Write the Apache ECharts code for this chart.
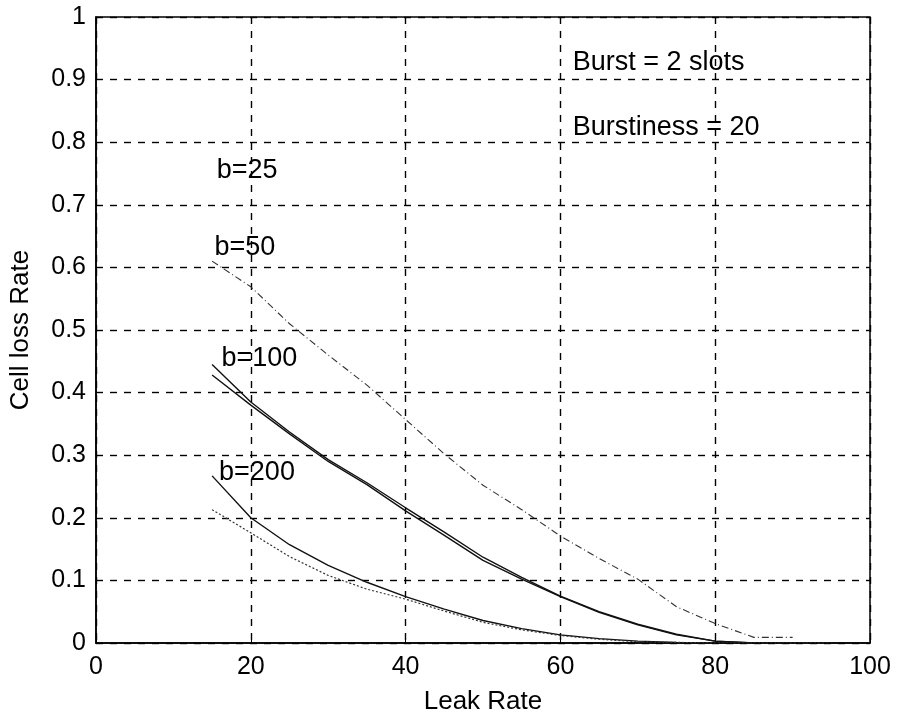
<!DOCTYPE html>
<html>
<head>
<meta charset="utf-8">
<script src="https://cdn.jsdelivr.net/npm/echarts@6/dist/echarts.min.js"></script>
<style>
  html, body { margin: 0; padding: 0; background: #fff; }
  #main { width: 901px; height: 721px; }
</style>
</head>
<body>
<div id="main"></div>
<script>
// leak rate samples (x axis)
var leakRate = [15, 20, 25, 30, 35, 40, 45, 50, 55, 60, 65, 70, 75, 80, 85, 90, 95];

// cell loss rate curves
var b50 = [0.61, 0.569, 0.51, 0.46, 0.412, 0.357, 0.302, 0.252, 0.213, 0.171, 0.135, 0.102, 0.058, 0.031, 0.009, 0.009, null];
var b100a = [0.445, 0.385, 0.337, 0.293, 0.256, 0.216, 0.177, 0.137, 0.105, 0.075, 0.05, 0.03, 0.014, 0.003, 0, null, null];
var b100b = [0.428, 0.38, 0.334, 0.29, 0.253, 0.211, 0.172, 0.132, 0.102, 0.074, 0.049, 0.029, 0.013, 0.003, 0, null, null];
var b200 = [0.267, 0.2, 0.157, 0.124, 0.097, 0.074, 0.054, 0.036, 0.023, 0.013, 0.007, 0.003, 0.001, 0, null, null, null];
var b200low = [0.213, 0.176, 0.138, 0.108, 0.086, 0.07, 0.051, 0.033, 0.021, 0.012, 0.006, 0.002, 0.001, 0, 0, 0, 0];

// text notes on the plot (data coordinates)
var noteText = ['Burst = 2 slots', 'Burstiness = 20', 'b=25', 'b=50', 'b=100', 'b=200'];
var noteX = [61.6, 61.6, 15.6, 15.3, 16.2, 15.9];
var noteY = [0.928, 0.823, 0.755, 0.632, 0.455, 0.273];

var font = "'Liberation Sans', Arial, Helvetica, sans-serif";

function pairs(ys) {
  var out = [];
  for (var i = 0; i < leakRate.length; i++) {
    if (ys[i] !== null) out.push([leakRate[i], ys[i]]);
  }
  return out;
}

function curve(name, ys, type, width, color) {
  return {
    name: name,
    type: 'line',
    data: pairs(ys),
    showSymbol: false,
    symbol: 'none',
    silent: true,
    lineStyle: { color: color, width: width, type: type }
  };
}

var notes = [];
for (var i = 0; i < noteText.length; i++) {
  notes.push({ value: [noteX[i], noteY[i]], name: noteText[i] });
}

var chartDom = document.getElementById('main');
var myChart = echarts.init(chartDom, null, { renderer: 'canvas' });
var option;

option = {
  animation: false,
  backgroundColor: '#fff',
  grid: {
    left: 93, right: 31, top: 17, bottom: 78,
    show: true, borderColor: '#000', borderWidth: 1.5, backgroundColor: 'transparent'
  },
  xAxis: {
    type: 'value',
    min: 0, max: 100, interval: 20,
    name: 'Leak Rate',
    nameLocation: 'middle',
    nameGap: 46,
    nameTextStyle: { fontFamily: font, fontSize: 26, color: '#000' },
    axisLine: { show: true, lineStyle: { color: '#000', width: 1.5 } },
    axisTick: { show: true, inside: true, length: 6, lineStyle: { color: '#000' } },
    axisLabel: { fontFamily: font, fontSize: 25, color: '#000', margin: 12 },
    splitLine: { show: true, lineStyle: { color: '#000', width: 1.4, type: [7, 7] } }
  },
  yAxis: {
    type: 'value',
    min: 0, max: 1, interval: 0.1,
    name: 'Cell loss Rate',
    nameLocation: 'middle',
    nameGap: 62,
    nameTextStyle: { fontFamily: font, fontSize: 26, color: '#000' },
    axisLine: { show: true, lineStyle: { color: '#000', width: 1.5 } },
    axisTick: { show: true, inside: true, length: 6, lineStyle: { color: '#000' } },
    axisLabel: { fontFamily: font, fontSize: 25, color: '#000', margin: 10 },
    splitLine: { show: true, lineStyle: { color: '#000', width: 1.4, type: [7, 7] } }
  },
  series: [
    curve('b=50', b50, [7, 3, 1, 3], 1.1, '#333'),
    curve('b=100 a', b100a, 'solid', 1.4, '#111'),
    curve('b=100 b', b100b, 'solid', 1.4, '#111'),
    curve('b=200', b200, 'solid', 1.4, '#111'),
    curve('b=200 low', b200low, [2, 2], 1.2, '#333'),
    {
      name: 'notes',
      type: 'scatter',
      data: notes,
      symbolSize: 0,
      silent: true,
      z: 10,
      itemStyle: { opacity: 1, color: '#000' },
      label: {
        show: true,
        position: 'right',
        distance: 0,
        formatter: function (p) { return p.name; },
        fontFamily: font,
        fontSize: 27,
        color: '#000',
        opacity: 1
      }
    }
  ]
};

option && myChart.setOption(option);
</script>
</body>
</html>
